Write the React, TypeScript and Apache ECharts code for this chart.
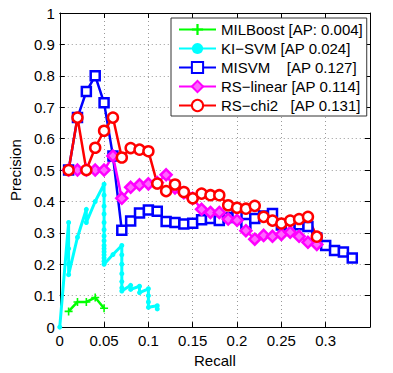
import React, { useEffect, useRef } from "react";
import * as echarts from "echarts";

const seriesNames = [
  "MILBoost [AP: 0.004]",
  "KI\u2212SVM [AP 0.024]",
  "MISVM    [AP 0.127]",
  "RS\u2212linear [AP 0.114]",
  "RS\u2212chi2   [AP 0.131]",
];

const milboost: number[][] = [
  [0.01, 0.05], [0.02, 0.08], [0.03, 0.08], [0.04, 0.094], [0.05, 0.06],
];

const kisvm: number[][] = [
  [0, 0], [0.01, 0.333], [0.01, 0.25], [0.01, 0.2], [0.01, 0.167],
  [0.02, 0.286], [0.03, 0.375], [0.03, 0.333], [0.04, 0.4], [0.05, 0.455],
  [0.05, 0.42], [0.05, 0.385], [0.05, 0.36], [0.05, 0.333], [0.05, 0.31],
  [0.05, 0.29], [0.05, 0.275], [0.05, 0.26], [0.05, 0.25], [0.05, 0.24],
  [0.05, 0.23], [0.05, 0.22], [0.05, 0.21], [0.05, 0.2],
  [0.06, 0.231], [0.07, 0.26], [0.07, 0.23], [0.07, 0.2], [0.07, 0.17],
  [0.07, 0.145], [0.07, 0.125], [0.07, 0.115], [0.08, 0.133], [0.08, 0.12],
  [0.09, 0.13], [0.09, 0.11], [0.1, 0.122], [0.1, 0.1], [0.1, 0.08],
  [0.1, 0.063], [0.11, 0.068], [0.11, 0.058],
];

const misvmX = [
  0.01, 0.02, 0.03, 0.04, 0.05, 0.06, 0.07, 0.08, 0.09, 0.1, 0.11, 0.12, 0.13,
  0.14, 0.15, 0.16, 0.17, 0.18, 0.19, 0.2, 0.21, 0.22, 0.23, 0.24, 0.25, 0.26,
  0.27, 0.28, 0.29, 0.3, 0.31, 0.32, 0.33,
];
const misvmY = [
  0.5, 0.667, 0.75, 0.8, 0.714, 0.545, 0.308, 0.338, 0.363, 0.373, 0.369,
  0.336, 0.333, 0.328, 0.331, 0.342, 0.346, 0.339, 0.349, 0.354, 0.33, 0.346,
  0.354, 0.362, 0.325, 0.323, 0.326, 0.32, 0.284, 0.26, 0.244, 0.239, 0.22,
];

const rsX = [
  0.01, 0.02, 0.03, 0.04, 0.05, 0.06, 0.07, 0.08, 0.09, 0.1, 0.11, 0.12, 0.13,
  0.14, 0.15, 0.16, 0.17, 0.18, 0.19, 0.2, 0.21, 0.22, 0.23, 0.24, 0.25, 0.26,
  0.27, 0.28, 0.29,
];
const rsLinearY = [
  0.5, 0.5, 0.5, 0.5, 0.5, 0.545, 0.41, 0.445, 0.453, 0.456, 0.46, 0.485,
  0.443, 0.428, 0.41, 0.375, 0.365, 0.365, 0.344, 0.34, 0.307, 0.28, 0.292,
  0.289, 0.295, 0.302, 0.289, 0.27, 0.263,
];
const rsChi2Y = [
  0.5, 0.667, 0.5, 0.571, 0.625, 0.667, 0.54, 0.57, 0.565, 0.56, 0.457, 0.433,
  0.454, 0.43, 0.41, 0.425, 0.42, 0.42, 0.388, 0.38, 0.377, 0.386, 0.351,
  0.339, 0.33, 0.339, 0.344, 0.351, 0.288,
];

const xTicks = { min: 0, max: 0.35, interval: 0.05 };
const yTicks = { min: 0, max: 1, interval: 0.1 };

const FONT = "'Liberation Sans', Arial, Helvetica, sans-serif";
const PLUS = "path://M4,0H6V4H10V6H6V10H4V6H0V4H4Z";

export default function App() {
  const ref = useRef<HTMLDivElement>(null);
  useEffect(() => {
    document.body.style.margin = "0";
    if (!ref.current) return;
    const chart = echarts.init(ref.current, undefined, { renderer: "svg" });
    const zip = (xs: number[], ys: number[]) => xs.map((x, i) => [x, ys[i]]);
    const mk = (
      name: string,
      data: number[][],
      color: string,
      symbol: string,
      symbolSize: number,
      width: number,
      borderWidth: number,
      fill: string
    ) => ({
      type: "line",
      name,
      data,
      symbol,
      symbolSize,
      showSymbol: true,
      showAllSymbol: true,
      lineStyle: { color, width },
      itemStyle: { color: fill, borderColor: color, borderWidth },
      emphasis: { disabled: true },
      silent: true,
    });
    const axisCommon = {
      axisLine: { show: true, onZero: false, lineStyle: { color: "#000", width: 1 } },
      axisTick: { show: true, inside: true, length: 5, lineStyle: { color: "#000" } },
    };
    chart.setOption({
      animation: false,
      backgroundColor: "#fff",
      textStyle: { fontFamily: FONT },
      grid: { left: 51, right: 23, top: 13, bottom: 42, containLabel: false },
      legend: {
        orient: "vertical",
        left: 171,
        top: 18,
        itemWidth: 37,
        itemHeight: 14,
        itemGap: 4,
        padding: [4, 4, 3, 7],
        borderColor: "#333",
        borderWidth: 1,
        backgroundColor: "#fff",
        selectedMode: false,
        textStyle: { fontSize: 15, color: "#000", fontFamily: FONT },
        data: seriesNames,
      },
      xAxis: [
        {
          type: "value",
          position: "bottom",
          ...xTicks,
          ...axisCommon,
          axisLabel: { fontSize: 15, color: "#000", margin: 6, showMaxLabel: false, fontFamily: FONT },
          splitLine: { show: true, lineStyle: { type: [1, 3], color: "#999" } },
          name: "Recall",
          nameLocation: "middle",
          nameGap: 23,
          nameTextStyle: { fontSize: 15, color: "#000", fontFamily: FONT },
        },
        {
          type: "value",
          position: "top",
          ...xTicks,
          ...axisCommon,
          axisLabel: { show: false },
          splitLine: { show: false },
        },
      ],
      yAxis: [
        {
          type: "value",
          position: "left",
          ...yTicks,
          ...axisCommon,
          axisLabel: { fontSize: 15, color: "#000", margin: 5, fontFamily: FONT },
          splitLine: { show: true, lineStyle: { type: [1, 3], color: "#999" } },
          name: "Precision",
          nameLocation: "middle",
          nameGap: 33,
          nameTextStyle: { fontSize: 15, color: "#000", fontFamily: FONT },
        },
        {
          type: "value",
          position: "right",
          ...yTicks,
          ...axisCommon,
          axisLabel: { show: false },
          splitLine: { show: false },
        },
      ],
      series: [
        mk(seriesNames[0], milboost, "#00ff00", PLUS, 8, 2.5, 0, "#00ff00"),
        mk(seriesNames[1], kisvm, "#00ffff", "circle", 5, 3, 0, "#00ffff"),
        mk(seriesNames[2], zip(misvmX, misvmY), "#0000ff", "rect", 9, 2.5, 2.5, "#ffffff"),
        mk(seriesNames[3], zip(rsX, rsLinearY), "#ff00ff", "diamond", 11, 2.5, 2.5, "#ff66ff"),
        mk(seriesNames[4], zip(rsX, rsChi2Y), "#ff0000", "circle", 10, 2.5, 2.5, "#ffffff"),
      ],
    });
    return () => chart.dispose();
  }, []);
  return (
    <div
      ref={ref}
      style={{ position: "absolute", left: 0, top: 0, width: 393, height: 373 }}
    />
  );
}
